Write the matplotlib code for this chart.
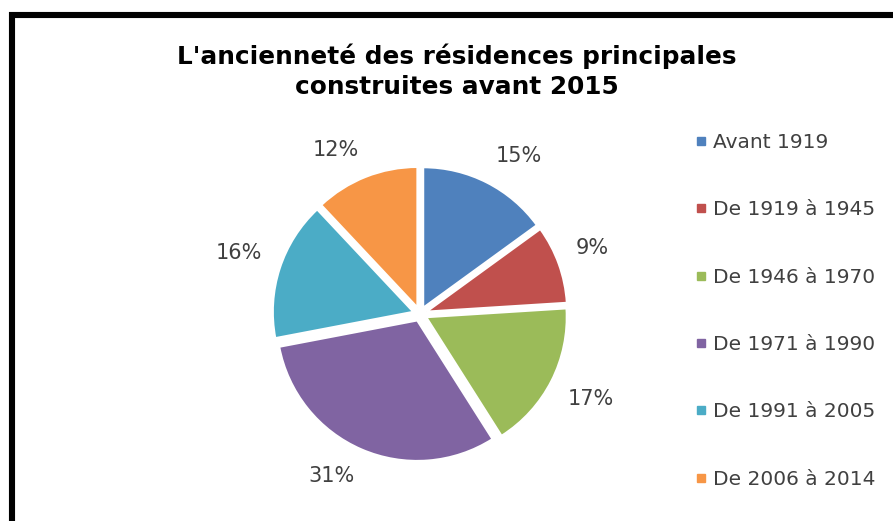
import matplotlib
matplotlib.use("Agg")
import numpy as np
import matplotlib.pyplot as plt
from matplotlib.lines import Line2D

categories = ["Avant 1919", "De 1919 à 1945", "De 1946 à 1970",
              "De 1971 à 1990", "De 1991 à 2005", "De 2006 à 2014"]
values = [15, 9, 17, 31, 16, 12]
colors = ["#4F81BD", "#C0504D", "#9BBB59", "#8064A2", "#4BACC6", "#F79646"]
title = "L'ancienneté des résidences principales\nconstruites avant 2015"

W, H = 893, 521
fig = plt.figure(figsize=(W / 100, H / 100), dpi=100)
fig.patch.set_facecolor("white")

# pie axes
R = 140.5
L = 1.45 * R
cx, cy = 420, 314
ax = fig.add_axes([(cx - L) / W, 1 - (cy + L) / H, 2 * L / W, 2 * L / H])
wedges, texts = ax.pie(values, colors=colors, startangle=90, counterclock=False,
                       explode=[0.05] * len(values),
                       labels=[f"{v}%" for v in values], labeldistance=1.13,
                       wedgeprops=dict(edgecolor="white", linewidth=1.5),
                       textprops=dict(fontsize=15, color="#404040"))
# outside-end style: text box just touches a circle outside the slice
for w, t in zip(wedges, texts):
    ang = np.deg2rad((w.theta1 + w.theta2) / 2)
    t.set_horizontalalignment("left" if np.cos(ang) > 0 else "right")
    t.set_verticalalignment("bottom" if np.sin(ang) > 0 else "top")
ax.set_xlim(-1.45, 1.45)
ax.set_ylim(-1.45, 1.45)
ax.set_aspect("equal")
ax.axis("off")

fig.text(457 / W, 1 - 71 / H, title, ha="center", va="center",
         fontsize=17.8, fontweight="bold", color="black", linespacing=1.3)

handles = [Line2D([0], [0], marker="s", linestyle="none", markersize=6,
                  markerfacecolor=c, markeredgecolor=c) for c in colors]
fig.legend(handles, categories, loc="upper left",
           bbox_to_anchor=(687 / W, 1 - 125 / H), frameon=False,
           fontsize=14.5, labelcolor="#404040", handlelength=0.6,
           handletextpad=0.3, labelspacing=2.4, borderaxespad=0)

# border (left and top visible)
fig.add_artist(Line2D([12 / W, 12 / W, 1.0], [0.0, 1 - 15 / H, 1 - 15 / H],
                      transform=fig.transFigure, color="black", linewidth=4.4,
                      solid_joinstyle="miter"))

fig.savefig("out.png", dpi=100)
